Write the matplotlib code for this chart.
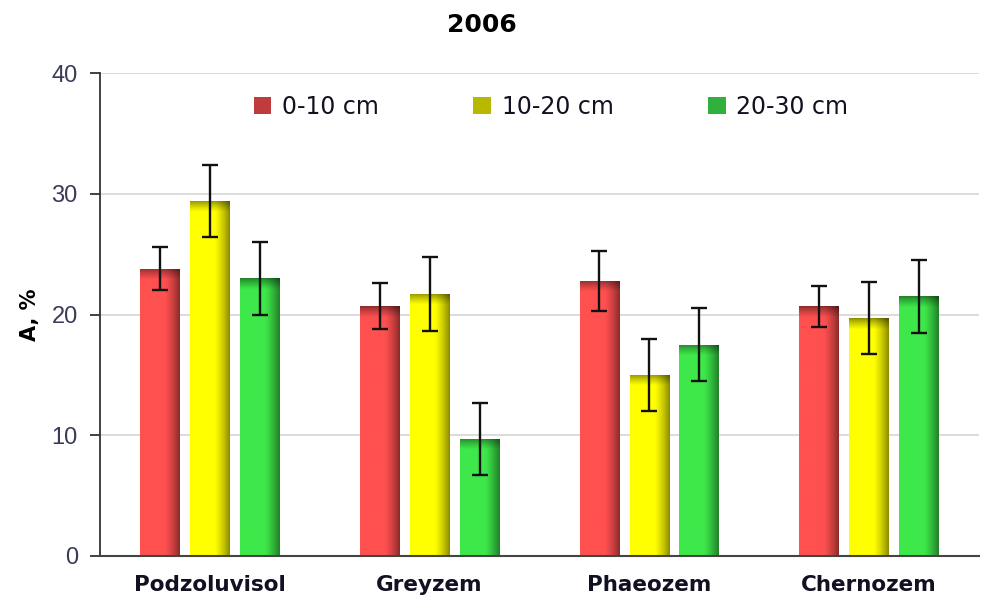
import numpy as np
import matplotlib.pyplot as plt
from matplotlib.patches import Patch
from matplotlib.colors import to_rgb

soils = ["Podzoluvisol", "Greyzem", "Phaeozem", "Chernozem"]
depths = ["0-10 cm", "10-20 cm", "20-30 cm"]

vals_0_10 = [23.8, 20.7, 22.8, 20.7]
vals_10_20 = [29.4, 21.7, 15.0, 19.7]
vals_20_30 = [23.0, 9.7, 17.5, 21.5]

err_0_10 = [1.8, 1.9, 2.5, 1.7]
err_10_20 = [3.0, 3.1, 3.0, 3.0]
err_20_30 = [3.0, 3.0, 3.0, 3.0]

colors = ["#ff5050", "#ffff00", "#3ee84a"]
legend_colors = ["#c03c3c", "#b8b800", "#30b03c"]

series = [vals_0_10, vals_10_20, vals_20_30]
errors = [err_0_10, err_10_20, err_20_30]


def shade_bar(ax, rect, color):
    # fake the 3d gradient: darker right side and darker top strip
    x0, y0 = rect.get_x(), rect.get_y()
    w, h = rect.get_width(), rect.get_height()
    nx, ny = 60, 300
    xs = np.linspace(0, 1, nx)
    fx = np.ones(nx)
    m = xs > 0.62
    fx[m] = 1 - 0.45 * ((xs[m] - 0.62) / 0.38) ** 1.3
    ys = np.linspace(h, 0, ny)  # top row first
    fy = np.ones(ny)
    band = 0.9
    t = (h - ys) < band
    fy[t] = 0.55 + 0.45 * ((h - ys[t]) / band) ** 0.8
    f = np.outer(fy, fx)
    rgb = np.array(to_rgb(color))
    img = f[:, :, None] * rgb[None, None, :]
    im = ax.imshow(img, extent=(x0, x0 + w, y0, y0 + h), aspect="auto",
                   zorder=2, interpolation="bilinear")
    im.set_clip_path(rect)


fig = plt.figure(figsize=(9.81, 6.08), dpi=100)
ax = fig.add_axes([100 / 981, 52 / 608, 879 / 981, 483 / 608])

x = np.arange(len(soils))
step = 0.227
width = 0.18
for i, (vals, errs, col) in enumerate(zip(series, errors, colors)):
    pos = x + (i - 1) * step
    bars = ax.bar(pos, vals, width, color=col, zorder=2, edgecolor="none")
    for rect in bars:
        shade_bar(ax, rect, col)
    ax.errorbar(pos, vals, yerr=errs, fmt="none", ecolor="#111111",
                elinewidth=1.7, capsize=5.5, capthick=1.7, zorder=4)

ax.set_xlim(-0.5, 3.5)
ax.set_ylim(0, 40)
ax.set_yticks([0, 10, 20, 30, 40])
ax.yaxis.grid(True, color="#d9d9d9", linewidth=1.3, zorder=0)
ax.set_axisbelow(True)

ax.set_xticks(x)
ax.set_xticklabels(soils, fontsize=15.5, fontweight="bold", family="DejaVu Sans",
                   color="#111122")
ax.tick_params(axis="x", length=0, pad=14)
ax.tick_params(axis="y", direction="out", length=7, width=1.3, color="#333333",
               labelsize=17, labelcolor="#3a3a5a", pad=9)
for lab in ax.get_yticklabels():
    lab.set_fontfamily(["Liberation Sans", "DejaVu Sans"])

for s in ["top", "right"]:
    ax.spines[s].set_visible(False)
ax.spines["left"].set_color("#333333")
ax.spines["left"].set_linewidth(1.3)
ax.spines["bottom"].set_color("#444444")
ax.spines["bottom"].set_linewidth(1.5)

ax.set_ylabel("A, %", fontsize=15, fontweight="bold", family="DejaVu Sans",
              labelpad=8)
fig.text(482 / 981, 1 - 25 / 608, "2006", fontsize=18, fontweight="bold",
         family="DejaVu Sans", ha="center", va="center")

handles = [Patch(facecolor=c, edgecolor="none") for c in legend_colors]
leg = ax.legend(handles, depths, loc="center", bbox_to_anchor=(0.513, 0.93),
                ncol=3, frameon=False, handlelength=0.75,
                handleheight=0.75, handletextpad=0.45, columnspacing=4.0,
                prop={"family": "DejaVu Sans", "size": 17})
for t in leg.get_texts():
    t.set_color("#111122")

fig.savefig("out.png", dpi=100)
